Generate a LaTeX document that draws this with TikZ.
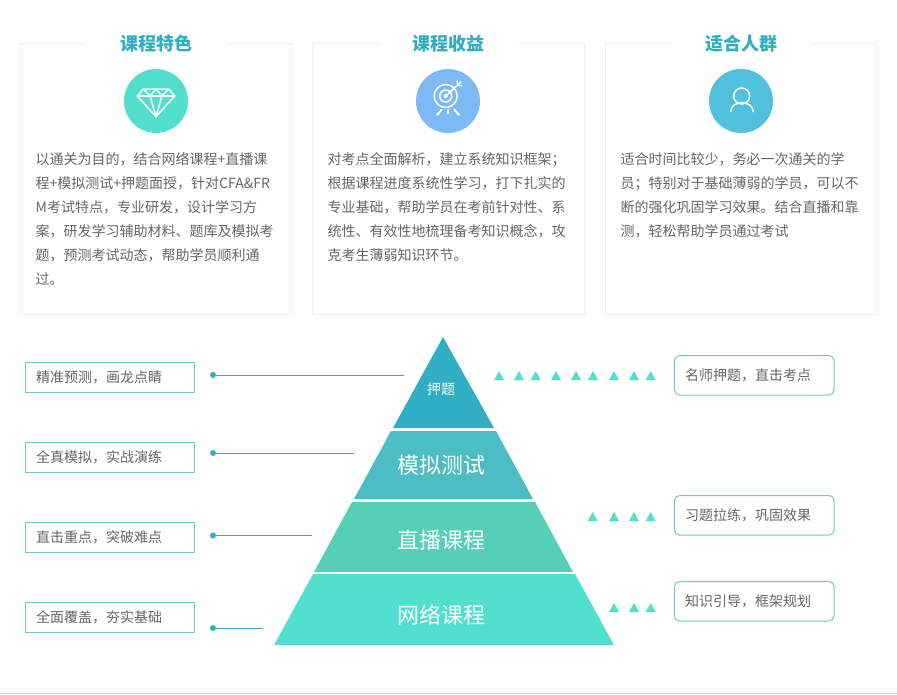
\documentclass[tikz,border=0pt]{standalone}
\usepackage{fontspec}
\usepackage{xcolor}
\setmainfont{Noto Sans CJK SC}
\usetikzlibrary{positioning}
\definecolor{cardgray}{RGB}{238,240,241}
\definecolor{titleblue}{RGB}{47,174,196}
\definecolor{textgray}{RGB}{102,102,102}
\definecolor{boxgreen}{RGB}{114,203,192}
\definecolor{layerone}{RGB}{48,174,196}
\definecolor{layertwo}{RGB}{77,189,196}
\definecolor{layerthree}{RGB}{85,207,182}
\definecolor{layerfour}{RGB}{82,223,205}
\definecolor{circleblue}{RGB}{125,184,247}
\definecolor{circlesky}{RGB}{82,193,222}

\begin{document}
\begin{tikzpicture}[
    x=1pt, y=-1pt,
    card/.style={rectangle, draw=cardgray, line width=1pt, outer sep=0pt, minimum width=271pt, minimum height=271pt, anchor=north west},
    cardtitle/.style={fill=white, minimum width=140pt, minimum height=20pt, inner sep=0pt, text=titleblue, font=\fontsize{18}{20}\selectfont\bfseries},
    cardtext/.style={anchor=north west, inner sep=0pt, align=left, text=textgray, font=\fontsize{14}{24}\selectfont},
    badge/.style={circle, minimum size=64pt, inner sep=0pt},
    icon/.style={draw=white, line width=1.5pt, line join=round, line cap=round},
    leftbox/.style={rectangle, draw=boxgreen, line width=1pt, outer sep=0pt, minimum height=29.5pt, text width=148pt, inner xsep=10.5pt, inner ysep=0pt, align=left, text=textgray, font=\fontsize{14}{16}\selectfont, anchor=north west},
    rightbox/.style={leftbox, rounded corners=5pt, text width=138.5pt, minimum height=39.5pt},
    layertext/.style={text=white, inner sep=0pt, font=\fontsize{22}{24}\selectfont},
    dot/.style={circle, fill=layerone, minimum size=6pt, inner sep=0pt},
    leader/.style={draw=layerone!85!gray, line width=1pt},
    tick/.style={fill=layerfour}
]
\useasboundingbox (0,0) rectangle (897,694);

% Cards
\node[card] (cardone) at (20.5,43.5) {};
\node[card, minimum width=272pt] (cardtwo) at (312.5,43.5) {};
\node[card] (cardthree) at (605.5,43.5) {};
\node[cardtitle] (titleone) at (156,43.5) {课程特色};
\node[cardtitle] (titletwo) at (448.5,43.5) {课程收益};
\node[cardtitle] (titlethree) at (741,43.5) {适合人群};

% Badges
\node[badge, fill=layerfour] (badgeone) at (156,101) {};
\node[badge, fill=circleblue] (badgetwo) at (448,101) {};
\node[badge, fill=circlesky] (badgethree) at (741,101) {};

% Diamond icon
\draw[icon] (143.3,89) -- (168.7,89) -- (174.7,96) -- (156,116.7) -- (137.3,96) -- cycle;
\draw[icon] (137.3,96) -- (174.7,96);
\draw[icon] (143.3,89) -- (150,96) -- (156,89) -- (162,96) -- (168.7,89);
\draw[icon] (150,96) -- (156,116.7) -- (162,96);

% Target icon
\draw[icon] (445.7,96) circle (11.5);
\draw[icon] (445.7,96) circle (6);
\fill[white] (445.7,96) circle (2);
\draw[icon] (445.7,96) -- (461,82);
\draw[icon] (457,81) -- (458,85) -- (462,86);
\draw[icon, line width=2pt] (437,115) -- (441.7,109.5);
\draw[icon, line width=2pt] (447.7,110) -- (447.7,113.5);
\draw[icon, line width=2pt] (459,115) -- (454.3,109.5);

% Person icon
\draw[icon] (741.7,96) circle (8);
\draw[icon] (730.7,111.7) .. controls (730.9,106) and (735.5,102.8) .. (741.7,102.8) .. controls (747.9,102.8) and (753,106) .. (753.3,111.7);

% Card texts
\node[cardtext] (textone) at (35.5,152.5) {以通关为目的，结合网络课程+直播课\\程+模拟测试+押题面授，针对CFA\&FR\\M考试特点，专业研发，设计学习方\\案，研发学习辅助材料、题库及模拟考\\题，预测考试动态，帮助学员顺利通\\过。};
\node[cardtext] (texttwo) at (327.5,152.5) {对考点全面解析，建立系统知识框架；\\根据课程进度系统性学习，打下扎实的\\专业基础，帮助学员在考前针对性、系\\统性、有效性地梳理备考知识概念，攻\\克考生薄弱知识环节。};
\node[cardtext] (textthree) at (620.5,152.5) {适合时间比较少，务必一次通关的学\\员；特别对于基础薄弱的学员，可以不\\断的强化巩固学习效果。结合直播和靠\\测，轻松帮助学员通过考试};

% Pyramid
\fill[layerone] (443,337) -- (494,428) -- (393,428) -- cycle;
\fill[layertwo] (391,431) -- (496,431) -- (533,499) -- (354,499) -- cycle;
\fill[layerthree] (352,502) -- (535,502) -- (573,572) -- (314,572) -- cycle;
\fill[layerfour] (313,574) -- (575,574) -- (614,645) -- (274,645) -- cycle;
\node[layertext, font=\fontsize{14}{16}\selectfont] (exam) at (441,389.5) {押题};
\node[layertext] (mock) at (441,465) {模拟测试};
\node[layertext] (live) at (441,540) {直播课程};
\node[layertext] (online) at (441,615) {网络课程};

% Left boxes
\node[leftbox] (boxa) at (25.5,362.5) {精准预测，画龙点睛};
\node[leftbox] (boxb) at (25.5,442.5) {全真模拟，实战演练};
\node[leftbox] (boxc) at (25.5,522.5) {直击重点，突破难点};
\node[leftbox] (boxd) at (25.5,602.5) {全面覆盖，夯实基础};

% Leaders
\foreach \name/\ypos/\xend in {a/375/404, b/453/354, c/535.5/312, d/628/263} {
    \node[dot] (dot\name) at (213,\ypos) {};
    \coordinate (end\name) at (\xend,\ypos);
    \draw[leader] (dot\name) -- (end\name);
}

% Right boxes
\node[rightbox] (boxe) at (674.5,355.5) {名师押题，直击考点};
\node[rightbox] (boxf) at (674.5,495.5) {习题拉练，巩固效果};
\node[rightbox] (boxg) at (674.5,581.5) {知识引导，框架规划};

% Triangle rows
\foreach \xpos in {499,519,535.7,556,576,593,614,634,650.7}
    \fill[tick] (\xpos,371) -- ++(5,9) -- ++(-10,0) -- cycle;
\foreach \xpos in {592.7,614,634,650.7}
    \fill[tick] (\xpos,512) -- ++(5,9) -- ++(-10,0) -- cycle;
\foreach \xpos in {614,634,650.7}
    \fill[tick] (\xpos,603) -- ++(5,9) -- ++(-10,0) -- cycle;

% Bottom rule
\draw[gray!35, line width=1pt] (0,693.5) -- (897,693.5);

\end{tikzpicture}
\end{document}
